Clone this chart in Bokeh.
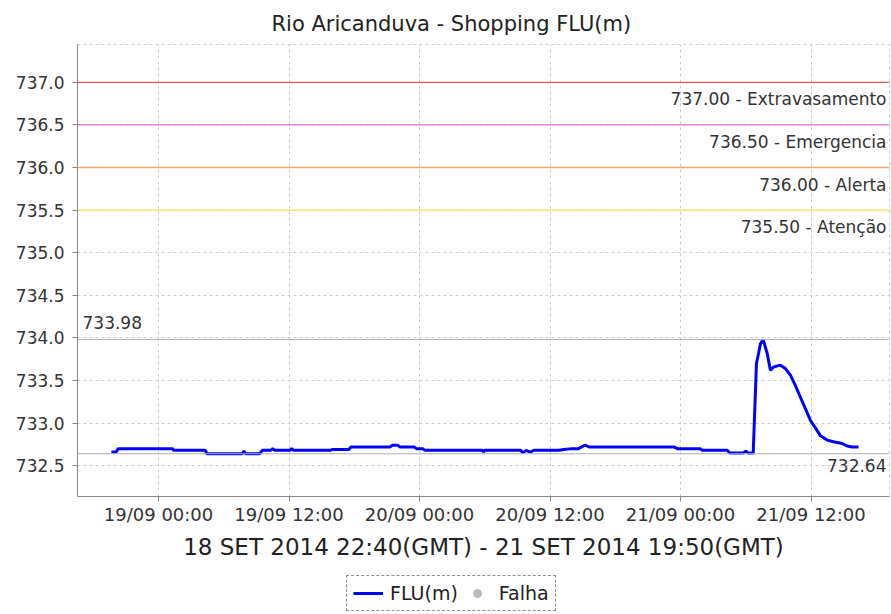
import pandas as pd
from bokeh.plotting import figure
from bokeh.layouts import column
from bokeh.models import (ColumnDataSource, Span, FixedTicker, DatetimeTickFormatter,
                          Legend, LegendItem, Range1d, NumeralTickFormatter, SingleIntervalTicker)
from bokeh.core.properties import value
from bokeh.embed import file_html
from bokeh.resources import INLINE

# ---------------- data ----------------
chart_title = "Rio Aricanduva - Shopping FLU(m)"
x_axis_label = "18 SET 2014 22:40(GMT) - 21 SET 2014 19:50(GMT)"
series_name = "FLU(m)"
falha_name = "Falha"

times = [
    "2014-09-18 19:40", "2014-09-18 20:06", "2014-09-18 20:18",
    "2014-09-19 01:17", "2014-09-19 01:24", "2014-09-19 04:18", "2014-09-19 04:27",
    "2014-09-19 07:42", "2014-09-19 07:51", "2014-09-19 08:00", "2014-09-19 09:18",
    "2014-09-19 09:33", "2014-09-19 10:18", "2014-09-19 10:30", "2014-09-19 10:42",
    "2014-09-19 12:06", "2014-09-19 12:15", "2014-09-19 12:24", "2014-09-19 15:48",
    "2014-09-19 16:00", "2014-09-19 17:30", "2014-09-19 17:42", "2014-09-19 21:18",
    "2014-09-19 21:30", "2014-09-19 22:00", "2014-09-19 22:12", "2014-09-19 23:30",
    "2014-09-19 23:42", "2014-09-20 00:18", "2014-09-20 00:30", "2014-09-20 05:48",
    "2014-09-20 05:54", "2014-09-20 06:00", "2014-09-20 09:18", "2014-09-20 09:30",
    "2014-09-20 09:48", "2014-09-20 10:12", "2014-09-20 10:30", "2014-09-20 12:48",
    "2014-09-20 13:18", "2014-09-20 14:00", "2014-09-20 14:36", "2014-09-20 15:12",
    "2014-09-20 15:36", "2014-09-20 23:24", "2014-09-20 23:42", "2014-09-21 01:48",
    "2014-09-21 02:00", "2014-09-21 04:18", "2014-09-21 04:30", "2014-09-21 05:48",
    "2014-09-21 06:00", "2014-09-21 06:12", "2014-09-21 06:41", "2014-09-21 06:59",
    "2014-09-21 07:21", "2014-09-21 07:36", "2014-09-21 07:58", "2014-09-21 08:16",
    "2014-09-21 08:35", "2014-09-21 09:11", "2014-09-21 09:39", "2014-09-21 10:07",
    "2014-09-21 10:34", "2014-09-21 11:02", "2014-09-21 11:29", "2014-09-21 11:57",
    "2014-09-21 12:25", "2014-09-21 12:52", "2014-09-21 13:29", "2014-09-21 14:04",
    "2014-09-21 14:52", "2014-09-21 15:20", "2014-09-21 15:47", "2014-09-21 16:22",
]
levels = [
    732.66, 732.66, 732.70,
    732.70, 732.68, 732.68, 732.64,
    732.64, 732.67, 732.64, 732.64,
    732.68, 732.68, 732.70, 732.68,
    732.68, 732.70, 732.68, 732.68,
    732.69, 732.69, 732.72, 732.72,
    732.74, 732.74, 732.72, 732.72,
    732.70, 732.70, 732.68, 732.68,
    732.66, 732.68, 732.68, 732.65,
    732.68, 732.66, 732.68, 732.68,
    732.69, 732.70, 732.70, 732.74,
    732.72, 732.72, 732.70, 732.70,
    732.68, 732.68, 732.65, 732.65,
    732.67, 732.65, 732.65, 733.70,
    733.93, 733.98, 733.82, 733.62,
    733.66, 733.68, 733.64, 733.56,
    733.44, 733.30, 733.17, 733.03,
    732.94, 732.85, 732.80, 732.78,
    732.76, 732.73, 732.72, 732.72,
]
# "Falha" (failure) series: no failures in the period
falha_times = []
falha_levels = []

threshold_values = [737.00, 736.50, 736.00, 735.50]
threshold_names = ["Extravasamento", "Emergencia", "Alerta", "Atenção"]
threshold_colors = ["#ee5555", "#e070e8", "#f0a868", "#f2e060"]

x_tick_times = ["2014-09-19 00:00", "2014-09-19 12:00", "2014-09-20 00:00",
                "2014-09-20 12:00", "2014-09-21 00:00", "2014-09-21 12:00"]
x_start, x_end = "2014-09-18 16:33", "2014-09-21 19:13"
y_start, y_end = 732.138, 737.444

FONT = "DejaVu Sans"


def ms(t):
    return pd.Timestamp(t).timestamp() * 1000.0


# ---------------- main chart ----------------
p = figure(width=891, height=562, x_axis_type="datetime",
           output_backend="svg", toolbar_location=None,
           x_range=Range1d(ms(x_start), ms(x_end)),
           y_range=Range1d(y_start, y_end),
           min_border_left=77, min_border_right=2,
           min_border_top=43, min_border_bottom=65)
p.background_fill_color = "white"
p.border_fill_color = "white"
p.outline_line_color = "#cccccc"
p.outline_line_dash = "3 3"

p.title.text = chart_title
p.title.align = "left"
p.title.offset = 194
p.title.standoff = 18
p.title.text_font = FONT
p.title.text_font_size = "21px"
p.title.text_font_style = "normal"
p.title.text_color = "#222222"

p.xaxis.ticker = FixedTicker(ticks=[ms(t) for t in x_tick_times])
fmt = "%d/%m %H:%M"
p.xaxis.formatter = DatetimeTickFormatter(minutes=fmt, hourmin=fmt, hours=fmt, days=fmt,
                                          months=fmt, years=fmt)
p.xaxis.axis_label = x_axis_label
p.xaxis.axis_label_text_font = FONT
p.xaxis.axis_label_text_font_size = "23px"
p.xaxis.axis_label_text_font_style = "normal"
p.xaxis.axis_label_text_color = "#222222"
p.xaxis.axis_label_standoff = 6

p.yaxis.ticker = SingleIntervalTicker(interval=0.5)
p.yaxis.formatter = NumeralTickFormatter(format="0.0")

for ax in (p.xaxis, p.yaxis):
    ax.major_label_text_font = FONT
    ax.major_label_text_color = "#333333"
    ax.axis_line_color = "#888888"
    ax.major_tick_line_color = "#888888"
    ax.major_tick_out = 5
    ax.major_tick_in = 0
    ax.minor_tick_line_color = None
p.xaxis.major_label_text_font_size = "18px"
p.yaxis.major_label_text_font_size = "17px"
p.xaxis.major_label_standoff = 2
p.yaxis.major_label_standoff = 8

for g in (p.xgrid, p.ygrid):
    g.grid_line_color = "#cccccc"
    g.grid_line_dash = "3 3"
    g.grid_line_width = 1
p.ygrid.ticker = SingleIntervalTicker(interval=0.5)

# threshold lines + labels
for v, c in zip(threshold_values, threshold_colors):
    p.add_layout(Span(location=v, dimension="width", line_color=c, line_width=1.3,
                      level="overlay"))

thr_src = ColumnDataSource(dict(
    x=[ms(x_end)] * len(threshold_values),
    y=threshold_values,
    t=["%.2f - %s" % (v, n) for v, n in zip(threshold_values, threshold_names)],
))
p.text(x="x", y="y", text="t", source=thr_src, text_align="right", text_baseline="top",
       x_offset=-3, y_offset=7, text_font=value(FONT), text_font_size="17px",
       text_color="#333333")

# max / min reference lines
vmax, vmin = max(levels), min(levels)
p.add_layout(Span(location=vmax, dimension="width", line_color="#b0b0b0", line_width=1))
p.add_layout(Span(location=vmin, dimension="width", line_color="#b0b0b0", line_width=1))
p.text(x=[ms(x_start)], y=[vmax], text=["%.2f" % vmax], text_align="left",
       text_baseline="bottom", x_offset=5, y_offset=-11, text_font=value(FONT),
       text_font_size="17px", text_color="#333333")
p.text(x=[ms(x_end)], y=[vmin], text=["%.2f" % vmin], text_align="right",
       text_baseline="top", x_offset=-3, y_offset=5, text_font=value(FONT),
       text_font_size="17px", text_color="#333333")

# series
src = ColumnDataSource(dict(x=[ms(t) for t in times], y=levels))
p.line(x="x", y="y", source=src, line_color="#0000ff", line_width=3)
fsrc = ColumnDataSource(dict(x=[ms(t) for t in falha_times] or [ms(x_start)],
                             y=falha_levels or [float("nan")]))
p.scatter(x="x", y="y", source=fsrc, marker="circle", size=10,
          fill_color="#bbbbbb", line_color="#bbbbbb")

# ---------------- legend strip (same series, drawn out of view) ----------------
lg = figure(width=891, height=52, output_backend="svg", toolbar_location=None,
            x_range=Range1d(ms(x_start), ms(x_end)), y_range=Range1d(0, 1),
            x_axis_type="datetime",
            min_border_left=0, min_border_right=0, min_border_top=0, min_border_bottom=0,
            x_axis_location=None, y_axis_location=None)
lg.grid.visible = False
lg.outline_line_color = None
lg.background_fill_color = "white"
lg.border_fill_color = "white"
r_line = lg.line(x="x", y="y", source=src, line_color="#0000ff", line_width=3)
r_falha = lg.scatter(x="x", y="y", source=fsrc, marker="circle", size=9,
                     fill_color="#bbbbbb", line_color="#bbbbbb")

legend = Legend(items=[LegendItem(label=series_name, renderers=[r_line]),
                       LegendItem(label=falha_name, renderers=[r_falha])],
                orientation="horizontal", location=(269, 3))
legend.label_text_font = FONT
legend.label_text_font_size = "19px"
legend.label_text_color = "#222222"
legend.border_line_color = "#222222"
legend.border_line_dash = "3 2"
legend.border_line_width = 1
legend.padding = 6
legend.spacing = 4
legend.glyph_width = 30
legend.label_standoff = 7
legend.margin = 0
legend.background_fill_color = "white"
lg.add_layout(legend, "center")

layout = column(p, lg, spacing=0)
open("out.html", "w").write(file_html(layout, INLINE))
